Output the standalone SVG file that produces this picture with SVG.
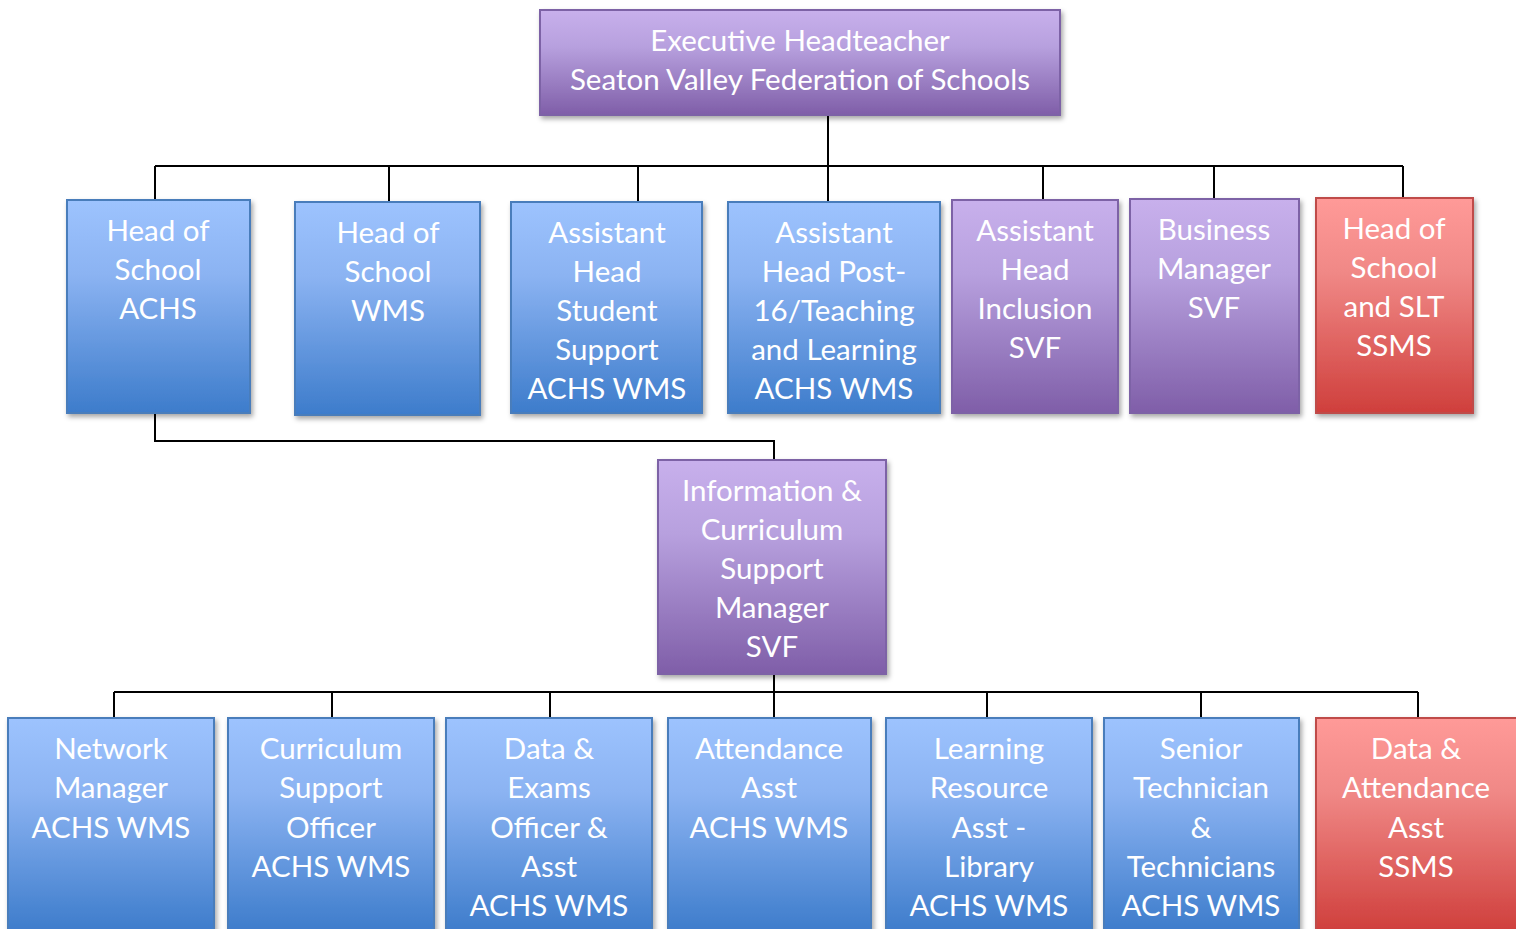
<svg xmlns="http://www.w3.org/2000/svg" width="1516" height="929" viewBox="0 0 1516 929">
<defs>
<linearGradient id="gBlue" x1="0" y1="0" x2="0" y2="1">
<stop offset="0" stop-color="#9dc3fe"/><stop offset="0.35" stop-color="#8bb3f2"/><stop offset="1" stop-color="#3d7ccb"/>
</linearGradient>
<linearGradient id="gPurple" x1="0" y1="0" x2="0" y2="1">
<stop offset="0" stop-color="#c8b0ec"/><stop offset="0.35" stop-color="#b7a0de"/><stop offset="1" stop-color="#7f5ea8"/>
</linearGradient>
<linearGradient id="gRed" x1="0" y1="0" x2="0" y2="1">
<stop offset="0" stop-color="#ff9a98"/><stop offset="0.35" stop-color="#f08886"/><stop offset="1" stop-color="#cf3f3c"/>
</linearGradient>
<filter id="sh" x="-10%" y="-10%" width="130%" height="130%">
<feDropShadow dx="2" dy="3" stdDeviation="2.5" flood-color="#000" flood-opacity="0.35"/>
</filter>
</defs>
<style>
.blue{fill:url(#gBlue);stroke:#4a7dbb;stroke-width:2;filter:url(#sh)}
.purple{fill:url(#gPurple);stroke:#7d62a6;stroke-width:2;filter:url(#sh)}
.red{fill:url(#gRed);stroke:#bf4c49;stroke-width:2;filter:url(#sh)}
text{font-family:Lato,"Open Sans","Liberation Sans",sans-serif;font-size:29.5px;fill:#ffffff;text-anchor:middle}
.ln{fill:none;stroke:#000;stroke-width:2}
</style>
<g id="connectors">
<path class="ln" d="M828 115 V202 M155 166 H1403 M155 166 V200 M389 166 V202 M638 166 V202 M1043 166 V200 M1214 166 V199 M1403 166 V198"/>
<path class="ln" d="M155 413 V441 H774 V460"/>
<path class="ln" d="M774 674 V718 M114 692 H1418 M114 692 V718 M332 692 V718 M550 692 V718 M987 692 V718 M1201 692 V718 M1418 692 V718"/>
</g>
<g id="exec"><rect class="purple" x="540" y="10" width="520" height="105"/>
<text x="800" y="51">Executive Headteacher</text><text x="800" y="90">Seaton Valley Federation of Schools</text></g>
<g id="hos-achs"><rect class="blue" x="67" y="200" width="183" height="213"/>
<text x="158" y="241">Head of</text><text x="158" y="280">School</text><text x="158" y="319">ACHS</text></g>
<g id="hos-wms"><rect class="blue" x="295" y="202" width="185" height="213"/>
<text x="388" y="243">Head of</text><text x="388" y="282">School</text><text x="388" y="321">WMS</text></g>
<g id="ah-ss"><rect class="blue" x="511" y="202" width="191" height="211"/>
<text x="607" y="243">Assistant</text><text x="607" y="282">Head</text><text x="607" y="321">Student</text><text x="607" y="360">Support</text><text x="607" y="399">ACHS WMS</text></g>
<g id="ah-p16"><rect class="blue" x="728" y="202" width="212" height="211"/>
<text x="834" y="243">Assistant</text><text x="834" y="282">Head Post-</text><text x="834" y="321">16/Teaching</text><text x="834" y="360">and Learning</text><text x="834" y="399">ACHS WMS</text></g>
<g id="ah-inc"><rect class="purple" x="952" y="200" width="166" height="213"/>
<text x="1035" y="241">Assistant</text><text x="1035" y="280">Head</text><text x="1035" y="319">Inclusion</text><text x="1035" y="358">SVF</text></g>
<g id="bm"><rect class="purple" x="1130" y="199" width="169" height="214"/>
<text x="1214" y="240">Business</text><text x="1214" y="279">Manager</text><text x="1214" y="318">SVF</text></g>
<g id="hos-ssms"><rect class="red" x="1316" y="198" width="157" height="215"/>
<text x="1394" y="239">Head of</text><text x="1394" y="278">School</text><text x="1394" y="317">and SLT</text><text x="1394" y="356">SSMS</text></g>
<g id="icsm"><rect class="purple" x="658" y="460" width="228" height="214"/>
<text x="772" y="501">Information &amp;</text><text x="772" y="540">Curriculum</text><text x="772" y="579">Support</text><text x="772" y="618">Manager</text><text x="772" y="657">SVF</text></g>
<g id="nm"><rect class="blue" x="8" y="718" width="206" height="214"/>
<text x="111" y="759">Network</text><text x="111" y="798">Manager</text><text x="111" y="838">ACHS WMS</text></g>
<g id="cso"><rect class="blue" x="228" y="718" width="206" height="214"/>
<text x="331" y="759">Curriculum</text><text x="331" y="798">Support</text><text x="331" y="838">Officer</text><text x="331" y="877">ACHS WMS</text></g>
<g id="deo"><rect class="blue" x="446" y="718" width="206" height="214"/>
<text x="549" y="759">Data &amp;</text><text x="549" y="798">Exams</text><text x="549" y="838">Officer &amp;</text><text x="549" y="877">Asst</text><text x="549" y="916">ACHS WMS</text></g>
<g id="att"><rect class="blue" x="668" y="718" width="203" height="214"/>
<text x="769" y="759">Attendance</text><text x="769" y="798">Asst</text><text x="769" y="838">ACHS WMS</text></g>
<g id="lra"><rect class="blue" x="886" y="718" width="206" height="214"/>
<text x="989" y="759">Learning</text><text x="989" y="798">Resource</text><text x="989" y="838">Asst -</text><text x="989" y="877">Library</text><text x="989" y="916">ACHS WMS</text></g>
<g id="tech"><rect class="blue" x="1104" y="718" width="195" height="214"/>
<text x="1201" y="759">Senior</text><text x="1201" y="798">Technician</text><text x="1201" y="838">&amp;</text><text x="1201" y="877">Technicians</text><text x="1201" y="916">ACHS WMS</text></g>
<g id="daa"><rect class="red" x="1316" y="718" width="204" height="214"/>
<text x="1416" y="759">Data &amp;</text><text x="1416" y="798">Attendance</text><text x="1416" y="838">Asst</text><text x="1416" y="877">SSMS</text></g>
</svg>
